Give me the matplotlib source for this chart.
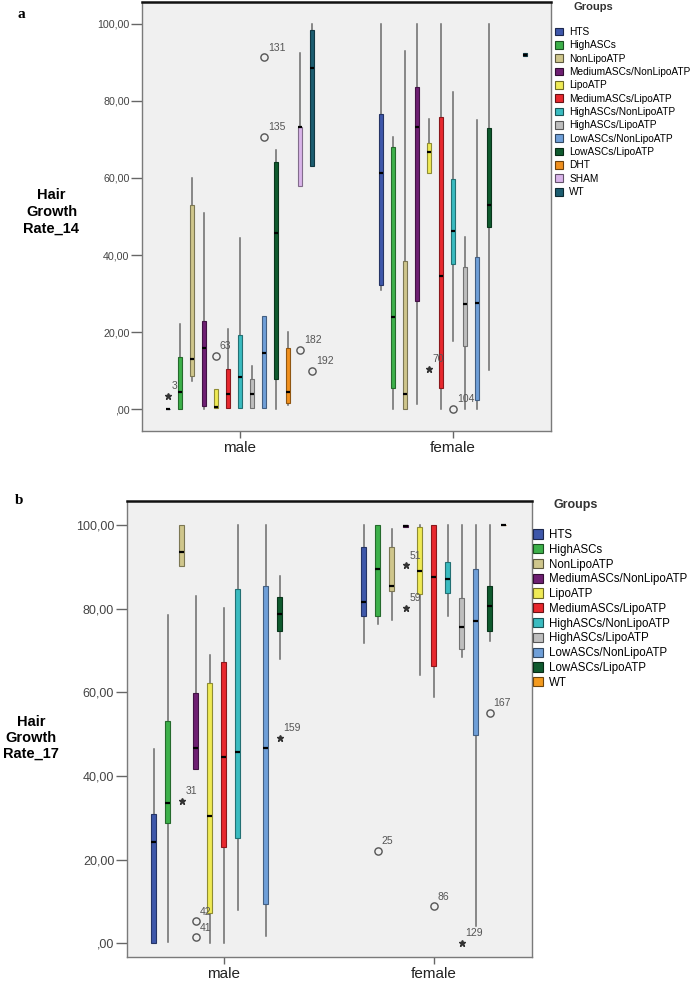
import matplotlib
matplotlib.use('Agg')
import matplotlib.pyplot as plt
import matplotlib.colors as mcolors
from matplotlib.patches import Patch
import numpy as np

plt.rcParams['font.family'] = ['Liberation Sans', 'DejaVu Sans']

# ---------------- data ----------------
sexes = ['male', 'female']

groups_a = ['HTS', 'HighASCs', 'NonLipoATP', 'MediumASCs/NonLipoATP', 'LipoATP',
            'MediumASCs/LipoATP', 'HighASCs/NonLipoATP', 'HighASCs/LipoATP',
            'LowASCs/NonLipoATP', 'LowASCs/LipoATP', 'DHT', 'SHAM', 'WT']
colors_a = ['#3E57AA', '#3DB04A', '#CFC68C', '#6E1F72', '#EFEA55', '#E8282E',
            '#3ABBC0', '#BEBEBE', '#6F9FD8', '#0F5A2E', '#F0901E', '#D9B4EA', '#1C5D70']

# (whislo, q1, median, q3, whishi) ; None = group absent
a_male = [
    (0.0, 0.0, 0.0, 0.0, 0.0),
    (0.0, 0.0, 4.5, 13.4, 22.0),
    (7.3, 8.7, 13.0, 53.0, 60.1),
    (0.0, 0.9, 15.9, 22.9, 51.0),
    (0.4, 0.4, 0.5, 5.1, 5.1),
    (0.3, 0.3, 3.9, 10.4, 20.7),
    (0.2, 0.2, 8.4, 19.2, 44.3),
    (0.2, 0.2, 3.8, 7.8, 11.2),
    (0.2, 0.2, 14.5, 24.2, 24.2),
    (0.0, 7.8, 45.6, 64.1, 67.3),
    (1.0, 1.7, 4.3, 15.8, 19.9),
    (57.9, 57.9, 73.2, 73.2, 92.4),
    (63.1, 63.1, 88.6, 98.5, 100.0),
]
a_female = [
    (30.9, 32.2, 61.4, 76.5, 100.0),
    (0.0, 5.4, 24.0, 68.1, 70.7),
    (0.0, 0.0, 3.9, 38.4, 93.1),
    (1.2, 28.1, 73.3, 83.7, 100.0),
    (61.4, 61.4, 66.8, 69.2, 75.3),
    (0.0, 5.5, 34.5, 75.8, 100.0),
    (17.7, 37.7, 46.3, 59.7, 82.4),
    (0.0, 16.4, 27.2, 37.0, 44.6),
    (0.0, 2.3, 27.6, 39.6, 75.1),
    (10.1, 47.4, 53.0, 73.0, 100.0),
    None,
    None,
    (91.6, 91.6, 92.0, 92.4, 92.4),
]
# (sex, group, value, label, kind)
a_outliers = [
    ('male', 'HTS', 3.5, '3', 'star'),
    ('male', 'LipoATP', 13.8, '63', 'circle'),
    ('male', 'LowASCs/NonLipoATP', 91.3, '131', 'circle'),
    ('male', 'LowASCs/NonLipoATP', 70.7, '135', 'circle'),
    ('male', 'SHAM', 15.3, '182', 'circle'),
    ('male', 'WT', 9.9, '192', 'circle'),
    ('female', 'LipoATP', 10.4, '70', 'star'),
    ('female', 'HighASCs/NonLipoATP', 0.0, '104', 'circle'),
]

groups_b = ['HTS', 'HighASCs', 'NonLipoATP', 'MediumASCs/NonLipoATP', 'LipoATP',
            'MediumASCs/LipoATP', 'HighASCs/NonLipoATP', 'HighASCs/LipoATP',
            'LowASCs/NonLipoATP', 'LowASCs/LipoATP', 'WT']
colors_b = ['#3E57AA', '#3DB04A', '#CFC68C', '#6E1F72', '#EFEA55', '#E8282E',
            '#3ABBC0', '#BEBEBE', '#6F9FD8', '#0F5A2E', '#F39A1E']
b_male = [
    (0.0, 0.0, 24.1, 30.8, 46.4),
    (0.4, 28.7, 33.5, 53.0, 78.5),
    (90.2, 90.2, 93.5, 100.0, 100.0),
    (41.7, 41.7, 46.6, 59.8, 83.0),
    (0.0, 7.2, 30.3, 62.3, 68.9),
    (0.0, 23.1, 44.4, 67.3, 80.1),
    (8.0, 25.1, 45.8, 84.6, 100.0),
    None,
    (1.8, 9.3, 46.6, 85.4, 100.0),
    (68.0, 74.7, 78.7, 82.7, 87.8),
    None,
]
b_female = [
    (71.7, 78.3, 81.6, 94.7, 100.0),
    (76.3, 78.3, 89.4, 100.0, 100.0),
    (77.3, 84.2, 85.4, 94.7, 99.0),
    (99.4, 99.4, 99.8, 100.0, 100.0),
    (64.1, 83.4, 89.0, 99.4, 100.0),
    (58.8, 66.3, 87.6, 100.0, 100.0),
    (78.3, 83.8, 87.1, 91.0, 100.0),
    (68.3, 70.3, 75.7, 82.4, 100.0),
    (4.0, 49.8, 76.9, 89.5, 100.0),
    (72.3, 74.7, 80.7, 85.4, 100.0),
    (100.0, 100.0, 100.0, 100.0, 100.0),
]
b_outliers = [
    ('male', 'NonLipoATP', 34.1, '31', 'star'),
    ('male', 'MediumASCs/NonLipoATP', 5.2, '42', 'circle'),
    ('male', 'MediumASCs/NonLipoATP', 1.4, '41', 'circle'),
    ('male', 'LowASCs/LipoATP', 49.0, '159', 'star'),
    ('female', 'HighASCs', 22.1, '25', 'circle'),
    ('female', 'MediumASCs/NonLipoATP', 90.3, '51', 'star'),
    ('female', 'MediumASCs/NonLipoATP', 80.1, '59', 'star'),
    ('female', 'MediumASCs/LipoATP', 8.8, '86', 'circle'),
    ('female', 'HighASCs/LipoATP', 0.0, '129', 'star'),
    ('female', 'LowASCs/LipoATP', 55.0, '167', 'circle'),
]

yticks = [0, 20, 40, 60, 80, 100]
ytick_labels = [',00' if v == 0 else f'{v},00' for v in yticks]


def darker(c, f=0.6):
    r, g, b = mcolors.to_rgb(c)
    return (r * f, g * f, b * f)


def draw_panel(ax, groups, colors, stats_m, stats_f, outliers, step, width,
               ylim, xlim, ytick_fs, xtick_fs):
    ax.set_facecolor('#F0F0F0')
    n = len(groups)
    pos_of = {}
    for s, stats in enumerate([stats_m, stats_f]):
        bx, ps, cs = [], [], []
        for i, st in enumerate(stats):
            p = s + (i - (n - 1) / 2) * step
            pos_of[(sexes[s], groups[i])] = p
            if st is None:
                continue
            lo, q1, med, q3, hi = st
            bx.append(dict(whislo=lo, q1=q1, med=med, q3=q3, whishi=hi, fliers=[]))
            ps.append(p)
            cs.append(colors[i])
        art = ax.bxp(bx, positions=ps, widths=width, patch_artist=True,
                     showcaps=False, showfliers=False,
                     whiskerprops=dict(color='#6A6A6A', lw=1.1),
                     medianprops=dict(color='black', lw=1.6, solid_capstyle='butt'),
                     boxprops=dict(lw=0.8), manage_ticks=False)
        for patch, c in zip(art['boxes'], cs):
            patch.set_facecolor(c)
            patch.set_edgecolor(darker(c))
            patch.set_zorder(3)
        for m in art['medians']:
            m.set_zorder(4)
    for sex, g, v, lab, kind in outliers:
        p = pos_of[(sex, g)]
        if kind == 'circle':
            ax.plot([p], [v], marker='o', ms=5.2, mfc='none', mec='#555555',
                    mew=1.0, ls='none', zorder=5)
        else:
            ax.plot([p], [v], marker='*', ms=5.0, color='#333333', ls='none', zorder=5)
        ax.annotate(lab, (p, v), xytext=(2.8, 7.0), textcoords='offset points',
                    ha='left', va='center', fontsize=7.5, color='#555555', zorder=6)
    ax.set_ylim(*ylim)
    ax.set_xlim(*xlim)
    ax.set_yticks(yticks)
    ax.set_yticklabels(ytick_labels, fontsize=ytick_fs, color='#444444')
    ax.set_xticks([0, 1])
    ax.set_xticklabels(sexes, fontsize=xtick_fs, color='#222222')
    ax.tick_params(axis='y', length=8, width=1.0, color='#666666', pad=1)
    ax.tick_params(axis='x', length=5, width=1.0, color='#666666', pad=2)
    for sp in ['left', 'right', 'bottom']:
        ax.spines[sp].set_color('#7A7A7A')
        ax.spines[sp].set_linewidth(1.0)
    ax.spines['top'].set_color('#111111')
    ax.spines['top'].set_linewidth(1.8)


W, H = 696, 991
fig = plt.figure(figsize=(W / 100, H / 100), dpi=100)

ax_a = fig.add_axes([142 / W, 1 - 431 / H, (551 - 142) / W, (431 - 2) / H])
draw_panel(ax_a, groups_a, colors_a, a_male, a_female, a_outliers,
           step=0.0563, width=0.019, ylim=(-5.7, 105.7), xlim=(-0.46, 1.46),
           ytick_fs=7.7, xtick_fs=11)

ax_b = fig.add_axes([126.7 / W, 1 - 957 / H, (531.7 - 126.7) / W, (957 - 501) / H])
draw_panel(ax_b, groups_b, colors_b, b_male, b_female, b_outliers,
           step=0.0667, width=0.023, ylim=(-3.3, 105.7), xlim=(-0.462, 1.467),
           ytick_fs=9, xtick_fs=11)

# y labels
fig.text(51.5 / W, 1 - 212 / H, 'Hair\nGrowth\nRate_14', ha='center', va='center',
         fontsize=10.5, fontweight='bold', linespacing=1.25)
fig.text(31 / W, 1 - 738 / H, 'Hair\nGrowth\nRate_17', ha='center', va='center',
         fontsize=10.5, fontweight='bold', linespacing=1.2)

# panel letters
fig.text(17 / W, 1 - 15 / H, 'a', ha='left', va='center', fontsize=11,
         fontweight='bold', family='Liberation Serif')
fig.text(15 / W, 1 - 500 / H, 'b', ha='left', va='center', fontsize=11,
         fontweight='bold', family='Liberation Serif')

# legends
handles_a = [Patch(facecolor=c, edgecolor=darker(c, 0.45), lw=0.8, label=g)
             for g, c in zip(groups_a, colors_a)]
fig.text(573 / W, 1 - 7 / H, 'Groups', ha='left', va='center', fontsize=8,
         fontweight='bold', color='#333333')
fig.legend(handles=handles_a, loc='upper left', bbox_to_anchor=(555 / W, 1 - 27 / H),
           fontsize=7.3, frameon=False, handlelength=0.8, handleheight=0.8,
           handletextpad=0.6, labelspacing=0.33, borderpad=0, borderaxespad=0)

handles_b = [Patch(facecolor=c, edgecolor=darker(c, 0.45), lw=0.8, label=g)
             for g, c in zip(groups_b, colors_b)]
fig.text(553 / W, 1 - 505 / H, 'Groups', ha='left', va='center', fontsize=9,
         fontweight='bold', color='#333333')
fig.legend(handles=handles_b, loc='upper left', bbox_to_anchor=(533 / W, 1 - 529 / H),
           fontsize=8.3, frameon=False, handlelength=0.85, handleheight=0.85,
           handletextpad=0.5, labelspacing=0.24, borderpad=0, borderaxespad=0)

fig.savefig('out.png', dpi=100, facecolor='white')
